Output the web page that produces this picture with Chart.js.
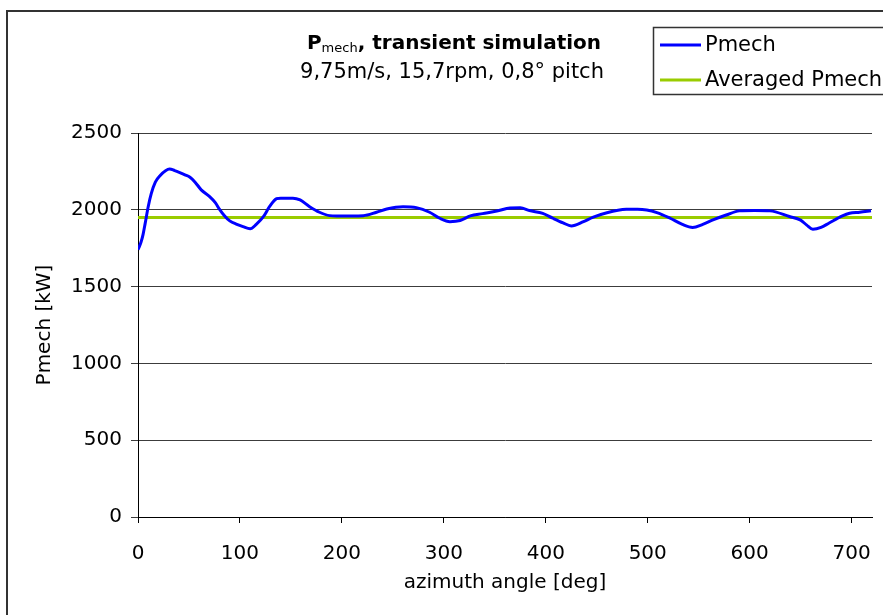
<!DOCTYPE html>
<html>
<head>
<meta charset="utf-8">
<script src="https://cdn.jsdelivr.net/npm/chart.js@4.4.1/dist/chart.umd.min.js"></script>
<style>
  html, body { margin: 0; padding: 0; background: #ffffff; }
  #wrap { width: 883px; height: 615px; position: relative; }
</style>
</head>
<body>
<div id="wrap"><canvas id="c" width="883" height="615"></canvas></div>
<script>
// Mechanical power over rotor azimuth, transient run
const azimuthDeg = [0, 3, 5, 7, 10, 13, 17, 22, 27, 31, 36, 41, 46, 51, 56, 62, 70, 76, 80, 85, 90, 97, 103, 110, 116, 123, 129, 136, 140, 152, 159, 168, 178, 188, 195, 221, 234, 244, 260, 273, 286, 296, 306, 316, 326, 338, 352, 365, 375, 384, 397, 407, 417, 425, 437, 446, 460, 479, 490, 499, 509, 522, 534, 544, 554, 564, 577, 590, 605, 620, 639, 650, 656, 662, 670, 678, 691, 698, 708, 719];
const pmechKW = [1740, 1790, 1840, 1910, 2020, 2105, 2180, 2225, 2255, 2266, 2255, 2242, 2228, 2212, 2180, 2130, 2087, 2045, 2003, 1960, 1928, 1905, 1890, 1876, 1905, 1955, 2020, 2072, 2076, 2076, 2064, 2022, 1984, 1962, 1960, 1962, 1984, 2005, 2020, 2014, 1984, 1945, 1923, 1930, 1960, 1975, 1992, 2012, 2014, 1995, 1977, 1945, 1915, 1895, 1923, 1951, 1981, 2003, 2004, 1999, 1982, 1945, 1905, 1885, 1905, 1934, 1966, 1993, 1995, 1993, 1956, 1933, 1900, 1873, 1885, 1914, 1960, 1977, 1984, 1994];
const averageRange = [0, 720];
const averageKW = 1950;
const yTicks = [0, 500, 1000, 1500, 2000, 2500];
const xTicks = [0, 100, 200, 300, 400, 500, 600, 700];
const seriesLabels = ['Pmech', 'Averaged Pmech'];

const FONT = '"DejaVu Sans", Verdana, sans-serif';

const pmechPoints = azimuthDeg.map((a, i) => ({ x: a, y: pmechKW[i] }));
const avgPoints = averageRange.map(a => ({ x: a, y: averageKW }));

// Frame, title block, axis titles and legend box
const decor = {
  id: 'decor',
  beforeDraw(chart) {
    const ctx = chart.ctx;
    ctx.save();
    ctx.fillStyle = '#ffffff';
    ctx.fillRect(0, 0, chart.width, chart.height);
    ctx.strokeStyle = '#333333';
    ctx.lineWidth = 2;
    ctx.strokeRect(7, 11, 1000, 1000);
    ctx.restore();
  },
  afterDraw(chart) {
    const ctx = chart.ctx;
    const area = chart.chartArea;
    ctx.save();
    ctx.fillStyle = '#000000';
    ctx.textBaseline = 'alphabetic';

    // title line 1: P with subscript "mech"
    const big = 'bold 20px ' + FONT;
    const sub = '13px ' + FONT;
    const rest = ', transient simulation';
    ctx.font = big; const wP = ctx.measureText('P').width; const wR = ctx.measureText(rest).width;
    ctx.font = sub; const wS = ctx.measureText('mech').width;
    const cx = 454;
    let x = cx - (wP + wS + wR) / 2;
    ctx.textAlign = 'left';
    ctx.font = big; ctx.fillText('P', x, 49); x += wP;
    ctx.font = sub; ctx.fillText('mech', x, 52); x += wS;
    ctx.font = big; ctx.fillText(rest, x, 49);

    // title line 2
    ctx.font = '21px ' + FONT;
    ctx.textAlign = 'center';
    ctx.fillText('9,75m/s, 15,7rpm, 0,8° pitch', 452, 78);

    // axis titles
    ctx.font = '20px ' + FONT;
    ctx.textBaseline = 'middle';
    ctx.fillText('azimuth angle [deg]', (area.left + area.right) / 2, 583);
    ctx.save();
    ctx.translate(45, (area.top + area.bottom) / 2);
    ctx.rotate(-Math.PI / 2);
    ctx.fillText('Pmech [kW]', 0, 0);
    ctx.restore();

    // legend
    ctx.strokeStyle = '#333333';
    ctx.lineWidth = 1.5;
    ctx.strokeRect(653.5, 27.5, 260, 67);
    const rows = [45, 80];
    chart.data.datasets.forEach((ds, i) => {
      ctx.strokeStyle = ds.borderColor;
      ctx.lineWidth = 3;
      ctx.beginPath();
      ctx.moveTo(660, rows[i]);
      ctx.lineTo(701, rows[i]);
      ctx.stroke();
      ctx.fillStyle = '#000000';
      ctx.textAlign = 'left';
      ctx.font = '21px ' + FONT;
      ctx.fillText(ds.label, 705, rows[i] + 1);
    });
    ctx.restore();
  }
};

new Chart(document.getElementById('c'), {
  type: 'line',
  data: {
    datasets: [
      {
        label: seriesLabels[0],
        data: pmechPoints,
        borderColor: '#0000ff',
        borderWidth: 3,
        pointRadius: 0,
        cubicInterpolationMode: 'monotone',
        fill: false
      },
      {
        label: seriesLabels[1],
        data: avgPoints,
        borderColor: '#99cc00',
        borderWidth: 3,
        pointRadius: 0,
        tension: 0,
        fill: false
      }
    ]
  },
  plugins: [decor],
  options: {
    responsive: false,
    animation: false,
    devicePixelRatio: 1,
    layout: { padding: { left: 0, right: 11, top: 133, bottom: 0 } },
    plugins: { legend: { display: false }, title: { display: false }, tooltip: { enabled: false } },
    scales: {
      x: {
        type: 'linear',
        min: 0,
        max: 720,
        afterFit(scale) { scale.height = 98; scale.paddingLeft = 0; scale.paddingRight = 0; },
        afterBuildTicks(scale) { scale.ticks = xTicks.map(v => ({ value: v })); },
        border: { display: true, color: '#000000', width: 1 },
        grid: { drawOnChartArea: false, drawTicks: true, tickLength: 6, color: '#000000' },
        ticks: { color: '#000000', font: { family: FONT, size: 20 }, padding: 19, maxRotation: 0,
                 callback: v => String(v) }
      },
      y: {
        type: 'linear',
        min: 0,
        max: 2500,
        afterFit(scale) { scale.width = 138; scale.paddingTop = 0; scale.paddingBottom = 0; },
        afterBuildTicks(scale) { scale.ticks = yTicks.map(v => ({ value: v })); },
        border: { display: true, color: '#000000', width: 1 },
        grid: { drawOnChartArea: true, drawTicks: true, tickLength: 7, color: '#3c3c3c', lineWidth: 1 },
        ticks: { color: '#000000', font: { family: FONT, size: 20 }, padding: 9,
                 callback: v => String(v) }
      }
    }
  }
});
</script>
</body>
</html>
